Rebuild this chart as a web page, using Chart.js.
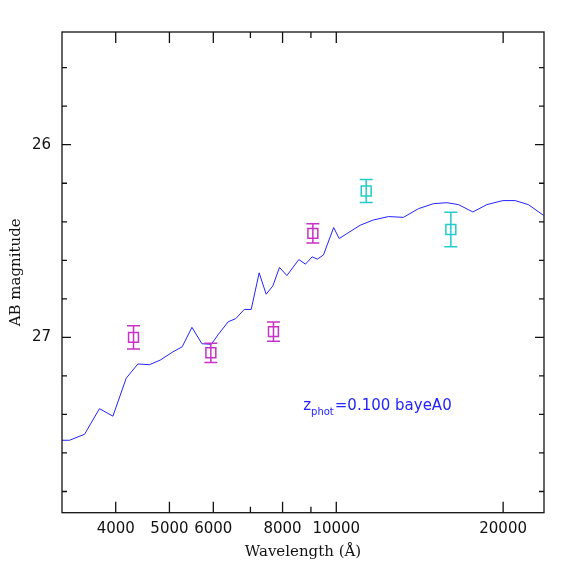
<!DOCTYPE html>
<html>
<head>
<meta charset="utf-8">
<script src="https://cdn.jsdelivr.net/npm/chart.js@4.4.0/dist/chart.umd.min.js"></script>
<style>
html, body { margin: 0; padding: 0; background: #fff; }
#wrap { width: 574px; height: 574px; }
</style>
</head>
<body>
<div id="wrap"><canvas id="sedChart" width="574" height="574"></canvas></div>
<script>
// template spectrum (wavelength in Angstrom, AB mag)
const lineWave = [3200, 3302, 3514, 3739, 3954, 4178, 4386, 4602, 4812, 5074,
    5272, 5490, 5722, 5948, 6132, 6383, 6584, 6823, 7023, 7259,
    7473, 7684, 7898, 8145, 8559, 8797, 9045, 9245, 9481, 9892,
    10120, 11043, 11656, 12422, 13218, 14069, 14975, 15832, 16613, 17636,
    18690, 19973, 21021, 22215, 23638];
const lineMag = [27.534, 27.534, 27.503, 27.370, 27.409, 27.212, 27.138, 27.142, 27.118, 27.075,
    27.049, 26.948, 27.033, 27.036, 26.983, 26.919, 26.903, 26.855, 26.855, 26.665,
    26.776, 26.733, 26.637, 26.679, 26.596, 26.620, 26.582, 26.594, 26.572, 26.430,
    26.487, 26.418, 26.391, 26.373, 26.377, 26.332, 26.306, 26.301, 26.311, 26.349,
    26.311, 26.290, 26.290, 26.311, 26.366];

// photometry
const opticalWave = [4307, 5939, 7703, 9073];
const opticalMag = [27.00, 27.08, 26.97, 26.46];
const opticalErr = [0.06, 0.05, 0.05, 0.05];
const nirWave = [11323, 16095];
const nirMag = [26.24, 26.44];
const nirErr = [0.06, 0.09];

// axes
const xTickValues = [4000, 5000, 6000, 7000, 8000, 9000, 10000, 20000];
const xLabelValues = [4000, 5000, 6000, 8000, 10000, 20000];
const yTickValues = [25.6, 25.8, 26, 26.2, 26.4, 26.6, 26.8, 27, 27.2, 27.4, 27.6, 27.8];
const yLabelValues = [26, 27];

const noteWave = 8715;
const noteMag = 27.377;

const blue = '#2424ff';
const magenta = '#c832c8';
const cyan = '#22cccc';

function toPoints(xs, ys) {
    return xs.map((w, i) => ({ x: w, y: ys[i] }));
}

const framePlugin = {
    id: 'frame',
    afterDraw(chart) {
        const { ctx, chartArea: a, scales: { x, y } } = chart;
        ctx.save();
        ctx.strokeStyle = '#111';
        ctx.lineWidth = 1.3;
        ctx.strokeRect(a.left, a.top, a.right - a.left, a.bottom - a.top);
        ctx.beginPath();
        xTickValues.forEach(v => {
            const px = x.getPixelForValue(v);
            const len = xLabelValues.includes(v) ? 11 : 6;
            ctx.moveTo(px, a.bottom); ctx.lineTo(px, a.bottom - len);
            ctx.moveTo(px, a.top); ctx.lineTo(px, a.top + len);
        });
        yTickValues.forEach(v => {
            const py = y.getPixelForValue(v);
            const len = yLabelValues.includes(v) ? 9 : 5;
            ctx.moveTo(a.left, py); ctx.lineTo(a.left + len, py);
            ctx.moveTo(a.right, py); ctx.lineTo(a.right - len, py);
        });
        ctx.stroke();
        ctx.restore();
    }
};

const errorBarPlugin = {
    id: 'errorBars',
    afterDatasetsDraw(chart) {
        const { ctx, scales: { x, y } } = chart;
        ctx.save();
        chart.data.datasets.forEach(ds => {
            if (!ds.errorBars) return;
            ctx.strokeStyle = ds.borderColor;
            ctx.lineWidth = 1.5;
            ds.data.forEach((p, i) => {
                const px = x.getPixelForValue(p.x);
                const top = y.getPixelForValue(p.y - ds.errorBars[i]);
                const bot = y.getPixelForValue(p.y + ds.errorBars[i]);
                ctx.beginPath();
                ctx.moveTo(px, top); ctx.lineTo(px, bot);
                ctx.moveTo(px - 6.5, top); ctx.lineTo(px + 6.5, top);
                ctx.moveTo(px - 6.5, bot); ctx.lineTo(px + 6.5, bot);
                ctx.stroke();
            });
        });
        ctx.restore();
    }
};

const notePlugin = {
    id: 'note',
    afterDraw(chart) {
        const { ctx, scales: { x, y } } = chart;
        let px = x.getPixelForValue(noteWave);
        const py = y.getPixelForValue(noteMag);
        ctx.save();
        ctx.fillStyle = blue;
        ctx.textBaseline = 'alphabetic';
        ctx.font = '15px "DejaVu Sans"';
        ctx.fillText('z', px, py);
        px += ctx.measureText('z').width;
        ctx.font = '10px "DejaVu Sans"';
        ctx.fillText('phot', px, py + 5);
        px += ctx.measureText('phot').width + 1;
        ctx.font = '15px "DejaVu Sans"';
        ctx.fillText('=0.100 bayeA0', px, py);
        ctx.restore();
    }
};

const ctx = document.getElementById('sedChart').getContext('2d');
new Chart(ctx, {
    type: 'line',
    data: {
        datasets: [
            {
                label: 'template',
                data: toPoints(lineWave, lineMag),
                borderColor: blue,
                borderWidth: 1,
                pointRadius: 0,
                tension: 0,
                fill: false
            },
            {
                type: 'scatter',
                label: 'optical',
                data: toPoints(opticalWave, opticalMag),
                errorBars: opticalErr,
                borderColor: magenta,
                backgroundColor: 'rgba(0,0,0,0)',
                pointStyle: 'rect',
                pointRadius: 7,
                borderWidth: 1.5
            },
            {
                type: 'scatter',
                label: 'nir',
                data: toPoints(nirWave, nirMag),
                errorBars: nirErr,
                borderColor: cyan,
                backgroundColor: 'rgba(0,0,0,0)',
                pointStyle: 'rect',
                pointRadius: 7,
                borderWidth: 1.5
            }
        ]
    },
    options: {
        responsive: false,
        animation: false,
        layout: { padding: { top: 32, right: 30, left: 0, bottom: 0 } },
        plugins: {
            legend: { display: false },
            tooltip: { enabled: false }
        },
        scales: {
            x: {
                type: 'logarithmic',
                position: 'bottom',
                min: 3200,
                max: 23700,
                afterBuildTicks: s => { s.ticks = xTickValues.map(v => ({ value: v })); },
                afterFit: s => { s.height = 61.3; },
                grid: { display: false },
                border: { display: false },
                ticks: {
                    autoSkip: false,
                    maxRotation: 0,
                    padding: -1,
                    color: '#111',
                    font: { family: 'DejaVu Sans', size: 15 },
                    callback: v => xLabelValues.includes(v) ? String(v) : ''
                },
                title: {
                    display: true,
                    text: 'Wavelength (Å)',
                    color: '#111',
                    font: { family: 'DejaVu Serif', size: 15 },
                    padding: { top: 0, bottom: 13 }
                }
            },
            y: {
                type: 'linear',
                reverse: true,
                min: 25.415,
                max: 27.91,
                afterBuildTicks: s => { s.ticks = yTickValues.map(v => ({ value: v })); },
                afterFit: s => { s.width = 62; },
                grid: { display: false },
                border: { display: false },
                ticks: {
                    autoSkip: false,
                    padding: 3,
                    color: '#111',
                    font: { family: 'DejaVu Sans', size: 15 },
                    callback: v => yLabelValues.includes(v) ? String(v) : ''
                },
                title: {
                    display: true,
                    text: 'AB magnitude',
                    color: '#111',
                    font: { family: 'DejaVu Serif', size: 15 },
                    padding: { top: 7, bottom: 0 }
                }
            }
        }
    },
    plugins: [errorBarPlugin, framePlugin, notePlugin]
});
</script>
</body>
</html>
